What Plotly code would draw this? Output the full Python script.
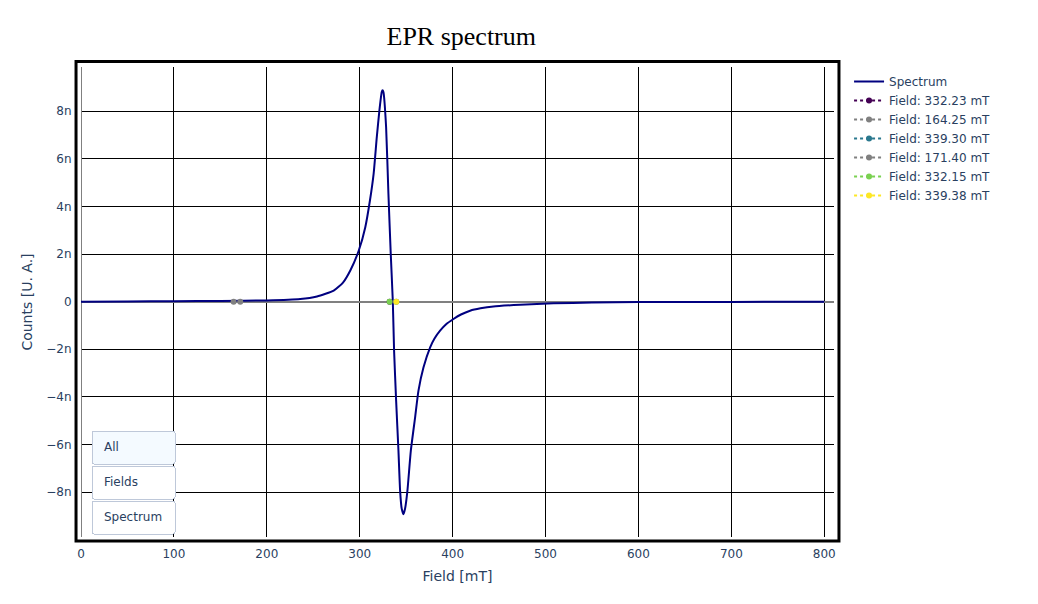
import plotly.graph_objects as go

# spectrum (field in mT, counts in units of 1e-9)
field = [0, 50, 100, 150, 200, 236, 254, 272, 282, 290, 299, 306, 311,
         315, 318.4, 321.2, 323.7, 324.6, 325.5, 328.4, 330.9, 333.4, 335.6,
         337.0, 339.2, 341.7, 343.5, 345.2, 347.0, 348.8, 351.3, 355.0, 359.6,
         363.2, 368.6, 375.8, 380.5, 386.5, 393, 400.9, 409, 418.8, 430, 443.9,
         472.7, 508.5, 550, 600, 700, 800]
counts = [0, 0.01, 0.02, 0.03, 0.05, 0.11, 0.22, 0.46, 0.8, 1.32, 2.15,
          3.13, 4.25, 5.38, 6.92, 8.04, 8.81, 8.88, 8.81, 7.34, 4.53, 2.0,
          0.04, -2.06, -4.17, -6.27, -7.96, -8.7, -8.93, -8.7, -7.96, -6.27,
          -4.87, -3.75, -2.77, -1.92, -1.55, -1.22, -0.95, -0.73, -0.54, -0.38,
          -0.28, -0.2, -0.13, -0.07, -0.04, -0.02, -0.01, 0]
counts = [c * 1e-9 for c in counts]

fields = [332.23, 164.25, 339.30, 171.40, 332.15, 339.38]
field_colors = ["#440154", "#808080", "#2a788e", "#808080", "#7ad151", "#fde725"]

fig = go.Figure()
fig.add_trace(go.Scatter(x=field, y=counts, mode="lines", name="Spectrum",
                         line=dict(color="#000080", width=2, shape="spline", smoothing=0.5)))
for f, c in zip(fields, field_colors):
    fig.add_trace(go.Scatter(x=[f], y=[0], mode="lines+markers",
                             name="Field: %.2f mT" % f,
                             line=dict(color=c, dash="dot", width=2),
                             marker=dict(color=c, size=6)))

n = len(fields) + 1
buttons = [
    dict(label="All", method="update", args=[{"visible": [True] * n}]),
    dict(label="Fields", method="update", args=[{"visible": [False] + [True] * (n - 1)}]),
    dict(label="Spectrum", method="update", args=[{"visible": [True] + [False] * (n - 1)}]),
]

fig.update_layout(
    margin=dict(l=73, r=196, t=59, b=59),
    font=dict(family="DejaVu Sans", size=12),
    paper_bgcolor="white", plot_bgcolor="white",
    title=dict(text="EPR spectrum", x=0.505, xref="paper", y=0.952, yanchor="middle",
               font=dict(family="Liberation Serif", size=26, color="black")),
    xaxis=dict(title=dict(text="Field [mT]", standoff=10), range=[0, 810.5],
               gridcolor="black", gridwidth=1,
               zeroline=True, zerolinecolor="#808080", zerolinewidth=1, dtick=100,
               ticks="outside", ticklen=6, tickcolor="rgba(0,0,0,0)"),
    yaxis=dict(title=dict(text="Counts [U. A.]", standoff=10), range=[-9.89e-9, 9.86e-9],
               gridcolor="black",
               gridwidth=1, zeroline=True, zerolinecolor="#808080", zerolinewidth=2,
               dtick=2e-9, exponentformat="SI",
               ticks="outside", ticklen=6, tickcolor="rgba(0,0,0,0)"),
    updatemenus=[dict(type="buttons", direction="down", active=0, buttons=buttons,
                      x=0, y=0, xanchor="left", yanchor="bottom",
                      pad=dict(l=10, b=4, t=0, r=0))],
    shapes=[dict(type="rect", xref="paper", yref="paper", x0=-0.0066, x1=1.0066,
                 y0=-0.0085, y1=1.0117, line=dict(color="black", width=3))],
)

fig.write_html("out.html")
